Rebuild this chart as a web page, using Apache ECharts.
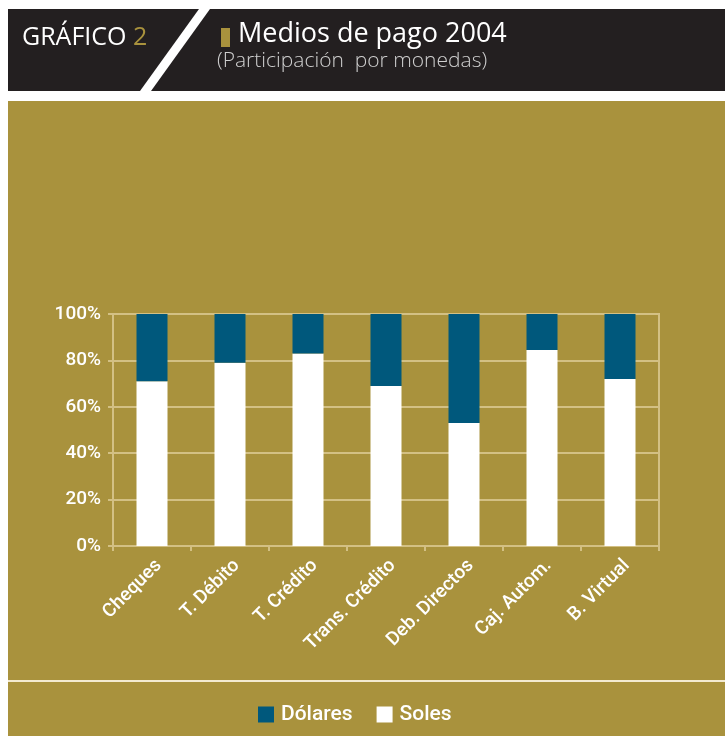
<!DOCTYPE html>
<html>
<head>
<meta charset="utf-8">
<script src="https://cdn.jsdelivr.net/npm/echarts@6/dist/echarts.min.js"></script>
<style>
html,body{margin:0;padding:0;background:#ffffff;}
#c{width:725px;height:736px;}
</style>
</head>
<body>
<div id="c"></div>
<script>
const categories = ['Cheques', 'T. Débito', 'T. Crédito', 'Trans. Crédito', 'Deb. Directos', 'Caj. Autom.', 'B. Virtual'];
const soles = [71, 79, 83, 69, 53, 84.5, 72];
const dolares = [29, 21, 17, 31, 47, 15.5, 28];
const seriesNames = ['Dólares', 'Soles'];
const yTicks = { min: 0, max: 100, interval: 20 };

const GOLD = '#a9923d';
const DARK = '#231f20';
const BLUE = '#00587c';
const GRIDC = '#d3c084';
const NARROW = 'Roboto, "Noto Sans", sans-serif';
const HEAD = '"Open Sans", "Noto Sans", sans-serif';

const chart = echarts.init(document.getElementById('c'), null, { renderer: 'canvas' });

chart.setOption({
  backgroundColor: '#ffffff',
  animation: false,
  graphic: [
    { type: 'rect', z: -10, shape: { x: 8, y: 9, width: 717, height: 82 }, style: { fill: DARK } },
    { type: 'polygon', z: -9, shape: { points: [[199, 9], [210, 9], [151, 91], [140, 91]] }, style: { fill: '#ffffff' } },
    { type: 'rect', z: -10, shape: { x: 8, y: 101, width: 717, height: 635 }, style: { fill: GOLD } },
    { type: 'line', z: -8, shape: { x1: 8, y1: 681, x2: 725, y2: 681 }, style: { stroke: '#f3ead0', lineWidth: 2 } },
    { type: 'text', left: 22, top: 25, style: {
        text: '{a|GRÁFICO }{b|2}',
        rich: {
          a: { fill: '#ffffff', fontSize: 25, fontFamily: HEAD, fontWeight: 500 },
          b: { fill: GOLD, fontSize: 25, fontFamily: HEAD, fontWeight: 500 }
        }
    } },
    { type: 'rect', shape: { x: 221, y: 28, width: 9, height: 19 }, style: { fill: GOLD } },
    { type: 'text', left: 238, top: 21, style: { text: 'Medios de pago 2004', fill: '#ffffff', fontSize: 27, fontFamily: HEAD, fontWeight: 500 } },
    { type: 'text', left: 217, top: 51, style: { text: '(Participación  por monedas)', fill: '#cfcfcf', fontSize: 21, fontFamily: HEAD, fontWeight: 300 } }
  ],
  legend: {
    data: seriesNames,
    left: 253,
    top: 699,
    icon: 'rect',
    itemWidth: 16,
    itemHeight: 16,
    itemGap: 24,
    textStyle: { color: '#ffffff', fontSize: 21, fontFamily: NARROW, fontWeight: 500, padding: [0, 0, 0, 2] }
  },
  grid: {
    left: 113, right: 66, top: 314, bottom: 190,
    show: true, borderColor: GRIDC, borderWidth: 2, backgroundColor: 'transparent'
  },
  xAxis: {
    type: 'category',
    data: categories,
    axisLine: { lineStyle: { color: GRIDC, width: 2 } },
    axisTick: { show: true, length: 5, lineStyle: { color: GRIDC, width: 2 } },
    axisLabel: { rotate: 45, color: '#ffffff', fontSize: 19, fontFamily: NARROW, fontWeight: 500, margin: 10, interval: 0, verticalAlign: 'top' }
  },
  yAxis: {
    type: 'value',
    min: yTicks.min, max: yTicks.max, interval: yTicks.interval,
    axisLine: { show: true, lineStyle: { color: GRIDC, width: 2 } },
    axisTick: { show: true, length: 5, lineStyle: { color: GRIDC, width: 2 } },
    splitLine: { lineStyle: { color: GRIDC, width: 2 } },
    axisLabel: { formatter: '{value}%', color: '#ffffff', fontSize: 19, fontFamily: NARROW, fontWeight: 500, margin: 12 }
  },
  series: [
    { name: 'Soles', type: 'bar', stack: 'total', data: soles, barWidth: 31, itemStyle: { color: '#ffffff' } },
    { name: 'Dólares', type: 'bar', stack: 'total', data: dolares, barWidth: 31, itemStyle: { color: BLUE } }
  ]
});
</script>
</body>
</html>
